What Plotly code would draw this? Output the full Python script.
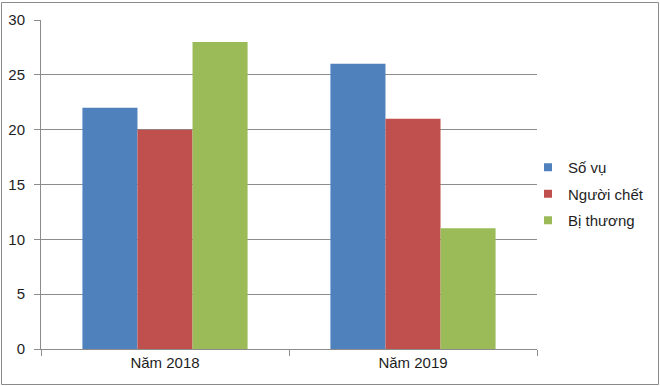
import plotly.graph_objects as go

categories = ["Năm 2018", "Năm 2019"]
so_vu = [22, 26]
nguoi_chet = [20, 21]
bi_thuong = [28, 11]
series_names = ["Số vụ", "Người chết", "Bị thương"]
colors = ["#4F81BD", "#C0504D", "#9BBB59"]

fig = go.Figure()
for name, vals, c in zip(series_names, [so_vu, nguoi_chet, bi_thuong], colors):
    fig.add_trace(go.Bar(x=categories, y=vals, name=name, showlegend=False,
                         marker=dict(color=c, line=dict(width=0))))
# legend entries with small square swatches
for name, c in zip(series_names, colors):
    fig.add_trace(go.Scatter(x=[None], y=[None], mode="markers", name=name, legendgroup=name,
                             marker=dict(symbol="square", size=8, color=c)))

W, H = 660, 386
ml, mr, mt, mb = 41, 123, 20, 37
pw, ph = W - ml - mr, H - mt - mb

fig.update_layout(
    width=W, height=H,
    margin=dict(l=ml, r=mr, t=mt, b=mb, autoexpand=False),
    paper_bgcolor="white", plot_bgcolor="white",
    barmode="group", bargap=0.334, bargroupgap=0,
    font=dict(family="Liberation Sans, Arial, sans-serif", size=15, color="#1e1e1e"),
    legend=dict(x=(528 - ml) / pw, y=1 - (194 - mt) / ph, yanchor="middle", xanchor="left",
                font=dict(size=15, color="#1e1e1e"), tracegroupgap=4, itemwidth=30,
                bgcolor="rgba(0,0,0,0)"),
    showlegend=True,
)
fig.update_yaxes(range=[0, 30], dtick=5, showgrid=True, gridcolor="#8c8c8c", gridwidth=1,
                 showline=True, linecolor="#8c8c8c", ticks="outside", ticklen=6,
                 tickcolor="#8c8c8c", zeroline=False, ticklabelstandoff=6, automargin=False)
fig.update_xaxes(showline=True, linecolor="#8c8c8c", ticks="outside", ticklen=6,
                 tickcolor="#8c8c8c", tickson="boundaries", showgrid=False, automargin=False)

# outer border of the chart area
fig.add_shape(type="rect", xref="paper", yref="paper",
              x0=(1.5 - ml) / pw, x1=(W - 1.5 - ml) / pw,
              y0=-(H - 1.5 - mt - ph) / ph, y1=(ph + mt - 2.5) / ph,
              line=dict(color="#8a8a8a", width=1), layer="above")

fig.write_html("out.html", config={"displayModeBar": False},
               post_script="document.body.style.margin='0';")
